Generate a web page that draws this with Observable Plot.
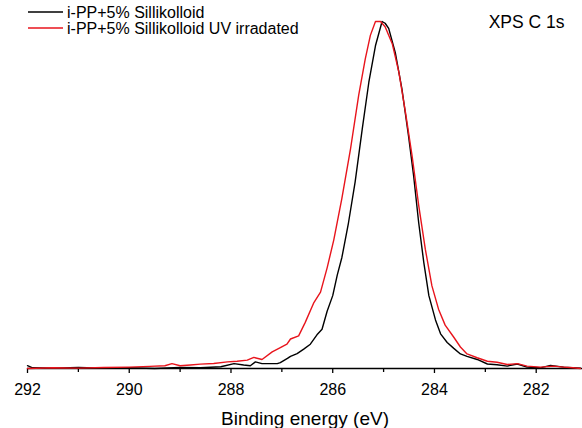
<!DOCTYPE html>
<html>
<head>
<meta charset="utf-8">
<script src="https://cdn.jsdelivr.net/npm/d3@7"></script>
<script src="https://cdn.jsdelivr.net/npm/@observablehq/plot@0.6"></script>
<style>
  html, body { margin: 0; padding: 0; background: #fff; }
  #chart svg { display: block; }
</style>
</head>
<body>
<div id="chart"></div>
<script>
// Series names
const seriesNames = ["i-PP+5% Sillikolloid", "i-PP+5% Sillikolloid UV irradated"];
const seriesColors = ["#000000", "#e8141c"];
const chartTitle = "XPS C 1s";
const xLabel = "Binding energy (eV)";

// Axis ticks
const majorTicks = [292, 290, 288, 286, 284, 282];
const minorTicks = [291, 289, 287, 285, 283];

// Series 1: i-PP+5% Sillikolloid (normalised intensity)
const energyBlack = [292.0, 291.9, 291.5, 291.0, 290.5, 290.0, 289.5, 289.0, 288.6, 288.2,
  287.94, 287.75, 287.62, 287.52, 287.39, 287.09, 287.03, 286.89, 286.83, 286.70,
  286.57, 286.44, 286.31, 286.21, 286.11, 286.0, 285.91, 285.82, 285.69, 285.56,
  285.42, 285.29, 285.16, 285.03, 284.97, 284.90, 284.77, 284.64, 284.51, 284.41,
  284.31, 284.21, 284.11, 283.98, 283.88, 283.75, 283.62, 283.49, 283.36, 283.16,
  282.96, 282.77, 282.57, 282.37, 282.18, 281.92, 281.72, 281.46, 281.13];
const intensityBlack = [0.008, 0.002, 0.001, 0.003, 0.001, 0.002, 0.000, 0.003, 0.002, 0.005,
  0.014, 0.010, 0.008, 0.019, 0.014, 0.014, 0.017, 0.029, 0.035, 0.043,
  0.056, 0.070, 0.097, 0.113, 0.165, 0.210, 0.270, 0.320, 0.420, 0.537,
  0.690, 0.825, 0.930, 1.000, 0.995, 0.980, 0.910, 0.806, 0.670, 0.556,
  0.420, 0.306, 0.210, 0.140, 0.100, 0.075, 0.058, 0.042, 0.035, 0.026,
  0.013, 0.011, 0.007, 0.013, 0.004, 0.002, 0.009, 0.004, 0.001];

// Series 2: i-PP+5% Sillikolloid UV irradated (normalised intensity)
const energyRed = [292.0, 291.5, 291.0, 290.5, 290.0, 289.6, 289.3, 289.16, 289.0, 288.8,
  288.60, 288.34, 288.07, 287.88, 287.68, 287.55, 287.39, 287.19, 287.03, 286.90,
  286.83, 286.67, 286.54, 286.37, 286.24, 286.11, 285.98, 285.82, 285.65, 285.49,
  285.36, 285.26, 285.16, 285.06, 284.97, 284.83, 284.70, 284.57, 284.44, 284.31,
  284.18, 284.05, 283.92, 283.79, 283.62, 283.49, 283.36, 283.16, 282.96, 282.77,
  282.57, 282.37, 282.18, 281.92, 281.66, 281.46, 281.27, 281.13];
const intensityRed = [0.000, 0.002, 0.001, 0.003, 0.004, 0.006, 0.008, 0.014, 0.008, 0.010,
  0.0125, 0.0144, 0.019, 0.021, 0.024, 0.032, 0.026, 0.048, 0.060, 0.070,
  0.085, 0.094, 0.133, 0.190, 0.220, 0.290, 0.370, 0.490, 0.633, 0.787,
  0.892, 0.960, 1.000, 1.000, 0.985, 0.936, 0.854, 0.738, 0.613, 0.470,
  0.344, 0.238, 0.171, 0.125, 0.090, 0.062, 0.042, 0.031, 0.021, 0.018,
  0.0115, 0.014, 0.0067, 0.004, 0.0067, 0.004, 0.002, 0.000];

const black = energyBlack.map((e, i) => ({e, v: intensityBlack[i]}));
const red = energyRed.map((e, i) => ({e, v: intensityRed[i]}));

const font = "'Liberation Sans', Arial, Helvetica, sans-serif";

const plot = Plot.plot({
  width: 582,
  height: 428,
  marginLeft: 27,
  marginRight: 0,
  marginTop: 21,
  marginBottom: 60,
  x: {domain: [292, 281.09]},
  y: {domain: [0, 1], axis: null},
  style: {fontFamily: font, fontSize: "16px", color: "#000", background: "#fff", overflow: "visible"},
  marks: [
    Plot.ruleY([0], {stroke: "#000", strokeWidth: 1.3}),
    Plot.axisX({ticks: majorTicks, tickSize: 5, tickPadding: 10, label: null,
      tickFormat: d => String(d), fontSize: 16, stroke: "#000", strokeWidth: 1.3}),
    Plot.axisX({ticks: minorTicks, tickSize: 4, tickFormat: () => "", label: null,
      stroke: "#000", strokeWidth: 1.3}),
    Plot.line(black, {x: "e", y: "v", stroke: seriesColors[0], strokeWidth: 1.4}),
    Plot.line(red, {x: "e", y: "v", stroke: seriesColors[1], strokeWidth: 1.4}),
    Plot.text([xLabel], {frameAnchor: "bottom", dy: 50, fontSize: 19, fill: "#000",
      lineAnchor: "middle"}),
    Plot.text([chartTitle], {frameAnchor: "top-right", dx: -18, dy: 1, fontSize: 17.5,
      fill: "#000", textAnchor: "end", lineAnchor: "middle"})
  ]
});

// Legend drawn inside the same SVG
const svg = d3.select(plot);
const legendRows = [12, 28];
seriesNames.forEach((name, i) => {
  svg.append("line")
    .attr("x1", 28).attr("x2", 63)
    .attr("y1", legendRows[i]).attr("y2", legendRows[i])
    .attr("stroke", seriesColors[i]).attr("stroke-width", 1.3);
  svg.append("text")
    .attr("x", 67).attr("y", legendRows[i])
    .attr("dy", "0.35em")
    .attr("text-anchor", "start")
    .attr("font-family", font)
    .attr("font-size", 16)
    .attr("fill", "#000")
    .text(name);
});

document.getElementById("chart").appendChild(plot);
</script>
</body>
</html>
